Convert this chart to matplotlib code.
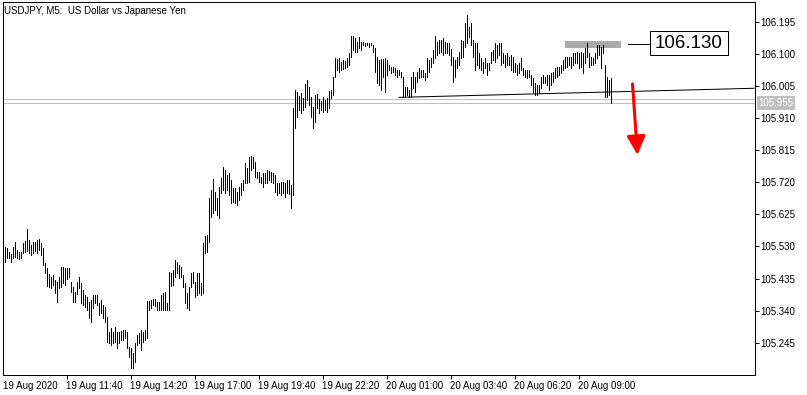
import matplotlib
matplotlib.use("Agg")
import matplotlib.pyplot as plt
from matplotlib.patches import Rectangle
import numpy as np

plt.rcParams['font.family'] = ['Liberation Sans', 'DejaVu Sans']

title = "USDJPY, M5:  US Dollar vs Japanese Yen"

highs = [
 105.528,105.525,105.513,105.507,105.528,105.543,105.519,105.513,105.513,105.540,
 105.546,105.581,105.549,105.534,105.543,105.543,105.549,105.552,105.540,105.525,
 105.481,105.466,105.448,105.439,105.445,105.431,105.425,105.439,105.469,105.469,
 105.466,105.466,105.466,105.425,105.410,105.395,105.425,105.439,105.422,105.401,
 105.386,105.380,105.365,105.371,105.386,105.386,105.386,105.363,105.371,105.357,
 105.351,105.321,105.277,105.289,105.277,105.292,105.277,105.277,105.280,105.283,
 105.283,105.277,105.232,105.229,105.215,105.244,105.268,105.274,105.283,105.277,
 105.283,105.368,105.368,105.371,105.374,105.374,105.365,105.365,105.386,105.392,
 105.395,105.363,105.454,105.451,105.460,105.490,105.484,105.475,105.469,105.445,
 105.422,105.392,105.410,105.451,105.454,105.425,105.451,105.451,105.422,105.540,
 105.561,105.564,105.673,105.697,105.729,105.691,105.673,105.706,105.732,105.765,
 105.756,105.741,105.747,105.727,105.703,105.703,105.691,105.706,105.718,105.727,
 105.777,105.762,105.795,105.798,105.795,105.780,105.750,105.750,105.735,105.747,
 105.747,105.756,105.753,105.750,105.747,105.741,105.718,105.718,105.721,105.721,
 105.718,105.727,105.727,105.712,105.940,105.993,105.987,105.975,105.984,105.969,
 106.011,106.022,106.002,105.972,105.943,105.978,105.981,105.966,105.960,105.972,
 105.963,105.969,105.990,105.993,106.031,106.088,106.085,106.088,106.076,106.082,
 106.079,106.088,106.102,106.153,106.153,106.147,106.135,106.150,106.135,106.135,
 106.132,106.132,106.132,106.132,106.126,106.117,106.090,106.082,106.085,106.085,
 106.088,106.082,106.067,106.061,106.061,106.058,106.052,106.052,106.046,106.031,
 106.002,106.002,105.993,106.031,106.046,106.031,106.046,106.058,106.052,106.052,
 106.043,106.088,106.082,106.088,106.111,106.153,106.135,106.141,106.141,106.147,
 106.135,106.132,106.132,106.114,106.090,106.082,106.090,106.105,106.141,106.138,
 106.191,106.215,106.179,106.191,106.141,106.132,106.132,106.102,106.088,106.076,
 106.088,106.073,106.073,106.105,106.111,106.132,106.126,106.132,106.132,106.102,
 106.096,106.102,106.090,106.096,106.090,106.073,106.067,106.073,106.088,106.058,
 106.052,106.052,106.052,106.037,106.028,106.014,106.008,106.008,106.031,106.037,
 106.031,106.037,106.037,106.043,106.046,106.058,106.061,106.061,106.067,106.082,
 106.090,106.090,106.090,106.090,106.102,106.102,106.105,106.102,106.105,106.102,
 106.117,106.132,106.102,106.090,106.088,106.102,106.126,106.126,106.120,106.126,
 106.067,106.031,106.022,106.028,
]

lows = [
 105.484,105.496,105.496,105.484,105.496,105.499,105.496,105.493,105.496,105.510,
 105.513,105.516,105.510,105.505,105.510,105.516,105.510,105.519,105.505,105.475,
 105.451,105.413,105.410,105.407,105.416,105.392,105.365,105.407,105.410,105.422,
 105.416,105.433,105.439,105.395,105.365,105.365,105.389,105.407,105.363,105.357,
 105.351,105.342,105.318,105.306,105.348,105.363,105.357,105.327,105.333,105.318,
 105.306,105.247,105.244,105.238,105.244,105.247,105.229,105.244,105.253,105.253,
 105.259,105.229,105.203,105.170,105.170,105.188,105.238,105.244,105.223,105.247,
 105.253,105.259,105.342,105.348,105.357,105.354,105.342,105.342,105.342,105.342,
 105.342,105.342,105.342,105.413,105.416,105.439,105.451,105.436,105.439,105.410,
 105.363,105.348,105.342,105.410,105.422,105.380,105.386,105.392,105.386,105.392,
 105.510,105.513,105.543,105.617,105.629,105.638,105.623,105.614,105.688,105.697,
 105.688,105.697,105.682,105.658,105.661,105.658,105.653,105.667,105.682,105.697,
 105.718,105.718,105.721,105.756,105.762,105.735,105.732,105.721,105.718,105.706,
 105.718,105.718,105.727,105.721,105.718,105.691,105.682,105.688,105.682,105.688,
 105.676,105.688,105.685,105.644,105.682,105.880,105.913,105.934,105.925,105.934,
 105.943,105.963,105.949,105.913,105.880,105.898,105.940,105.925,105.934,105.928,
 105.934,105.928,105.940,105.969,105.978,106.031,106.052,106.046,106.052,106.055,
 106.058,106.061,106.067,106.090,106.111,106.105,106.105,106.117,106.111,106.126,
 106.123,106.126,106.120,106.126,106.105,106.046,106.014,106.008,105.993,106.031,
 105.987,106.037,106.052,106.043,106.046,106.037,106.031,106.037,106.031,105.972,
 105.972,105.978,105.972,105.972,105.999,105.987,106.016,106.028,106.031,106.031,
 106.022,106.031,106.046,106.061,106.073,106.088,106.096,106.102,106.105,106.096,
 106.102,106.102,106.096,106.067,106.016,106.031,106.058,106.067,106.088,106.090,
 106.120,106.132,106.150,106.126,106.090,106.052,106.067,106.058,106.052,106.043,
 106.058,106.037,106.052,106.073,106.082,106.076,106.088,106.096,106.067,106.073,
 106.061,106.067,106.067,106.052,106.046,106.046,106.037,106.043,106.052,106.037,
 106.031,106.028,106.031,106.008,105.987,105.978,105.978,105.984,105.999,106.014,
 106.014,106.008,105.993,106.008,106.016,106.028,106.031,106.037,106.043,106.052,
 106.058,106.061,106.067,106.058,106.067,106.073,106.073,106.058,106.061,106.043,
 106.073,106.090,106.061,106.067,106.067,106.073,106.088,106.096,106.058,106.102,
 105.972,105.972,105.978,105.954,
]

price_ticks = [106.195, 106.100, 106.005, 105.910, 105.815, 105.720,
               105.625, 105.530, 105.435, 105.340, 105.245]
time_tick_bars = [-0.6, 31, 63, 95, 127, 159, 191, 223, 255, 287]
time_tick_labels = ["19 Aug 2020", "19 Aug 11:40", "19 Aug 14:20", "19 Aug 17:00",
                    "19 Aug 19:40", "19 Aug 22:20", "20 Aug 01:00", "20 Aug 03:40",
                    "20 Aug 06:20", "20 Aug 09:00"]

bid = 105.955
ask = 105.966
trend_start = (197, 105.971)
trend_end = (375, 105.998)
resistance = 106.130
resistance_zone = (280, 308, 106.117, 106.138)
arrow_from = (314, 106.011)
arrow_to = (316.5, 105.801)

W, H = 807, 395
PX = 0.72  # one pixel in points at 100 dpi
fig = plt.figure(figsize=(W / 100, H / 100), dpi=100)
L, R, T, B = 2.5, 754.5, 2.5, 374.5
ax = fig.add_axes([L / W, 1 - B / H, (R - L) / W, (B - T) / H])

x = np.arange(len(highs))
ax.set_xlim(-1, 375)
ax.set_ylim(105.1509, 106.2518)

# resistance zone (behind bars)
zx0, zx1, zy0, zy1 = resistance_zone
ax.add_patch(Rectangle((zx0, zy0), zx1 - zx0, zy1 - zy0, facecolor='#aaaaaa',
                       edgecolor='none', zorder=1))

# bid / ask lines
ax.axhline(ask, color='#c0c0c0', lw=PX, zorder=1)
ax.axhline(bid, color='#c0c0c0', lw=PX, zorder=1)

# bars
ax.vlines(x, lows, highs, colors='black', linewidth=0.5, antialiased=False, zorder=3)

# trend line
ax.plot([trend_start[0], trend_end[0]], [trend_start[1], trend_end[1]],
        color='black', lw=PX, zorder=4, solid_capstyle='butt')

# connector + label box for resistance
ax.plot([311.75, 322.75], [resistance, resistance], color='black', lw=PX, zorder=4)
ax.add_patch(Rectangle((322.75, 106.0964), 39.0, 0.0711, facecolor='white',
                       edgecolor='black', lw=PX, zorder=4))
ax.text(342.25, 106.1315, f"{resistance:.3f}", ha='center', va='center',
        fontsize=13.5, color='black', zorder=5)

# red arrow
ax.annotate('', xy=arrow_to, xytext=arrow_from,
            arrowprops=dict(arrowstyle='-|>,head_length=0.8,head_width=0.4',
                            color='#ff0000', lw=2.2, mutation_scale=14,
                            shrinkA=0, shrinkB=0), zorder=6)

# axes styling
for s in ax.spines.values():
    s.set_color('black')
    s.set_linewidth(PX)
ax.yaxis.tick_right()
ax.set_yticks(price_ticks)
ax.set_yticklabels([f"{v:.3f}" for v in price_ticks])
ax.tick_params(axis='y', direction='out', length=3, width=PX, pad=1.5,
               labelsize=7, colors='black')
ax.set_xticks(time_tick_bars)
ax.set_xticklabels(time_tick_labels)
ax.tick_params(axis='x', direction='out', length=3, width=PX, pad=2,
               labelsize=7, colors='black')
for lbl in ax.get_xticklabels():
    lbl.set_horizontalalignment('left')
ax.xaxis.get_major_ticks()[0].tick1line.set_visible(False)

# bid price label on axis
ax.text(1.0 + 4 / (R - L), bid, f"{bid:.3f}", transform=ax.get_yaxis_transform(),
        ha='left', va='center', fontsize=7, color='white', clip_on=False,
        bbox=dict(boxstyle='square,pad=0.2', facecolor='#c0c0c0', edgecolor='none'))

fig.text(4 / W, 1 - 13.5 / H, title, fontsize=7, color='black', va='baseline', ha='left')

fig.savefig('out.png', dpi=100, facecolor='white')
